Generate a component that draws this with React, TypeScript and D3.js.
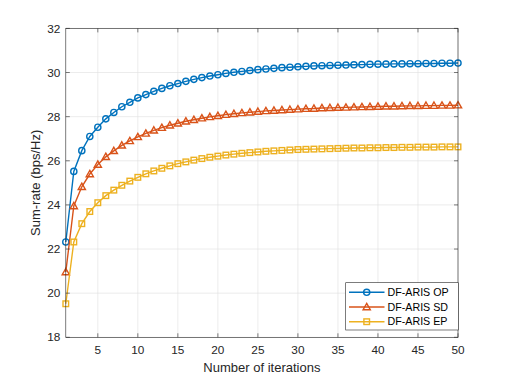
import React from "react";
import { scaleLinear, line, range } from "d3";

const iterations = range(1, 51);

const opValues = [
  22.32, 25.52, 26.46, 27.1, 27.52, 27.9, 28.19, 28.45, 28.65, 28.85,
  29.0, 29.15, 29.28, 29.4, 29.5, 29.6, 29.69, 29.77, 29.84, 29.9,
  29.96, 30.01, 30.05, 30.09, 30.13, 30.16, 30.19, 30.22, 30.24, 30.26,
  30.28, 30.3, 30.31, 30.32, 30.33, 30.34, 30.35, 30.36, 30.37, 30.38,
  30.38, 30.39, 30.39, 30.4, 30.4, 30.41, 30.41, 30.42, 30.42, 30.43
];

const sdValues = [
  20.96, 23.95, 24.82, 25.4, 25.83, 26.18, 26.45, 26.7, 26.9, 27.08,
  27.24, 27.38, 27.5, 27.61, 27.7, 27.79, 27.86, 27.93, 27.99, 28.04,
  28.09, 28.13, 28.17, 28.2, 28.23, 28.26, 28.28, 28.3, 28.32, 28.34,
  28.36, 28.37, 28.39, 28.4, 28.41, 28.42, 28.43, 28.44, 28.45, 28.46,
  28.47, 28.47, 28.48, 28.49, 28.49, 28.5, 28.5, 28.51, 28.51, 28.52
];

const epValues = [
  19.52, 22.32, 23.15, 23.7, 24.1, 24.42, 24.67, 24.89, 25.08, 25.25,
  25.41, 25.54, 25.66, 25.77, 25.87, 25.95, 26.03, 26.1, 26.16, 26.21,
  26.26, 26.3, 26.34, 26.37, 26.4, 26.43, 26.45, 26.47, 26.49, 26.51,
  26.52, 26.53, 26.54, 26.55, 26.56, 26.57, 26.58, 26.58, 26.59, 26.59,
  26.6, 26.6, 26.61, 26.61, 26.62, 26.62, 26.62, 26.63, 26.63, 26.63
];

const xTicks = [5, 10, 15, 20, 25, 30, 35, 40, 45, 50];
const yTicks = [18, 20, 22, 24, 26, 28, 30, 32];

const series = [
  { name: "DF-ARIS OP", values: opValues, color: "#0072BD", marker: "circle" },
  { name: "DF-ARIS SD", values: sdValues, color: "#D95319", marker: "triangle" },
  { name: "DF-ARIS EP", values: epValues, color: "#EDB120", marker: "square" }
];

const width = 506;
const height = 379;
const margin = { left: 65.8, right: 48, top: 28.4, bottom: 41.7 };
const font = "'Liberation Sans', Arial, Helvetica, sans-serif";
const tickSize = 11.8;
const labelSize = 13;
const legendSize = 10.7;

const Marker = ({ type, x, y, color }) => {
  if (type === "circle") {
    return <circle cx={x} cy={y} r={3.1} fill="none" stroke={color} strokeWidth={1.4} />;
  }
  if (type === "triangle") {
    const s = 3.6;
    return (
      <path
        d={`M${x},${y - s} L${x + s},${y + s * 0.75} L${x - s},${y + s * 0.75} Z`}
        fill="none"
        stroke={color}
        strokeWidth={1.4}
      />
    );
  }
  return (
    <rect x={x - 2.8} y={y - 2.8} width={5.6} height={5.6} fill="none" stroke={color} strokeWidth={1.4} />
  );
};

export default function App() {
  const x = scaleLinear().domain([1, 50]).range([margin.left, width - margin.right]);
  const y = scaleLinear().domain([18, 32]).range([height - margin.bottom, margin.top]);
  const [x0, x1] = x.range();
  const [y0, y1] = y.range();

  const path = line<number>()
    .x((d, i) => x(iterations[i]))
    .y(d => y(d));

  const legend = { x: 345.7, y: 282.7, w: 112.6, h: 47.3 };

  return (
    <svg
      width={width}
      height={height}
      style={{ position: "absolute", left: 0, top: 0, background: "#fff" }}
      fontFamily={font}
    >
      <rect width={width} height={height} fill="#fff" />
      {/* grid */}
      {xTicks.map(t => (
        <line key={`gx${t}`} x1={x(t)} x2={x(t)} y1={y0} y2={y1} stroke="#dfdfdf" strokeWidth={0.6} />
      ))}
      {yTicks.map(t => (
        <line key={`gy${t}`} x1={x0} x2={x1} y1={y(t)} y2={y(t)} stroke="#dfdfdf" strokeWidth={0.6} />
      ))}

      {/* series */}
      {series.map(s => (
        <g key={s.name}>
          <path d={path(s.values)} fill="none" stroke={s.color} strokeWidth={1.4} />
          {s.values.map((v, i) => (
            <Marker key={i} type={s.marker} x={x(iterations[i])} y={y(v)} color={s.color} />
          ))}
        </g>
      ))}

      {/* frame and ticks */}
      <rect x={x0} y={y1} width={x1 - x0} height={y0 - y1} fill="none" stroke="#262626" strokeWidth={0.6} />
      {xTicks.map(t => (
        <g key={`tx${t}`}>
          <line x1={x(t)} x2={x(t)} y1={y0} y2={y0 - 4} stroke="#262626" strokeWidth={0.6} />
          <line x1={x(t)} x2={x(t)} y1={y1} y2={y1 + 4} stroke="#262626" strokeWidth={0.6} />
          <text x={x(t)} y={y0 + 17} textAnchor="middle" fontSize={tickSize} fill="#262626">
            {t}
          </text>
        </g>
      ))}
      {yTicks.map(t => (
        <g key={`ty${t}`}>
          <line x1={x0} x2={x0 + 4} y1={y(t)} y2={y(t)} stroke="#262626" strokeWidth={0.6} />
          <line x1={x1} x2={x1 - 4} y1={y(t)} y2={y(t)} stroke="#262626" strokeWidth={0.6} />
          <text x={x0 - 5.5} y={y(t)} dy="0.35em" textAnchor="end" fontSize={tickSize} fill="#262626">
            {t}
          </text>
        </g>
      ))}

      <text x={(x0 + x1) / 2} y={371.5} textAnchor="middle" fontSize={labelSize} fill="#262626">
        Number of iterations
      </text>
      <text
        transform={`translate(39.5,${(y0 + y1) / 2}) rotate(-90)`}
        textAnchor="middle"
        fontSize={labelSize}
        fill="#262626"
      >
        Sum-rate (bps/Hz)
      </text>

      {/* legend */}
      <rect x={legend.x} y={legend.y} width={legend.w} height={legend.h} fill="#fff" stroke="#262626" strokeWidth={0.6} />
      {series.map((s, i) => {
        const ly = 292.3 + i * 14.7;
        return (
          <g key={`lg${s.name}`}>
            <line x1={349} x2={384.5} y1={ly} y2={ly} stroke={s.color} strokeWidth={1.4} />
            <Marker type={s.marker} x={366.7} y={ly} color={s.color} />
            <text x={387.5} y={ly} dy="0.35em" fontSize={legendSize} fill="#000">
              {s.name}
            </text>
          </g>
        );
      })}
    </svg>
  );
}
